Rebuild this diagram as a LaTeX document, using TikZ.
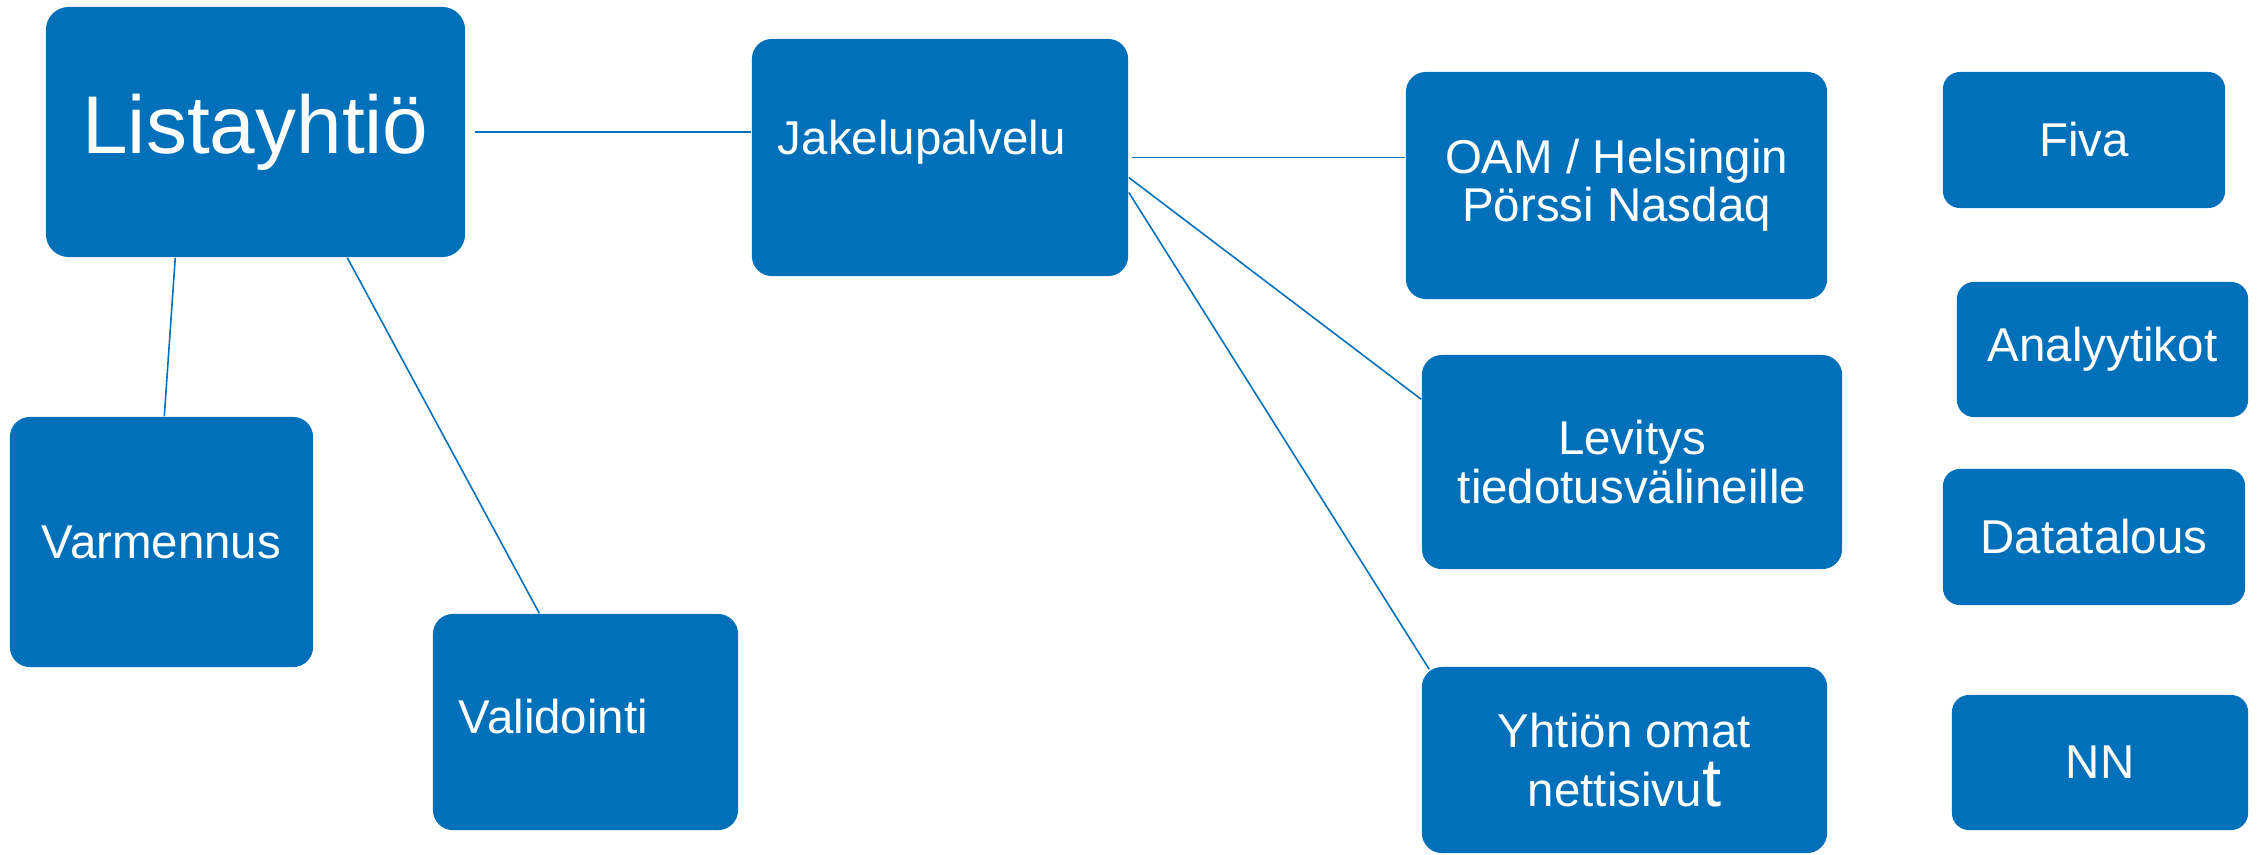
\documentclass[tikz,border=0pt]{standalone}
\usepackage{fontspec}
\setmainfont{Liberation Sans}
\definecolor{boxblue}{HTML}{0070BA}
\tikzstyle{box}=[fill=boxblue,rounded corners=.2cm,text=white,align=center,
  inner sep=0pt,font=\fontsize{13.5pt}{13.7pt}\selectfont]
\tikzstyle{leftbox}=[box,align=left,inner xsep=.26cm]
\tikzstyle{boxtext}=[text=white,inner sep=0pt,font=\fontsize{13.5pt}{13.7pt}\selectfont]
\tikzstyle{link}=[draw=boxblue,line width=.45pt]

\begin{document}
\begin{tikzpicture}[x=.01cm, y=-.01cm]
  \useasboundingbox (0,0) rectangle (2264,854);

  % left part
  \node[box, rounded corners=.23cm, minimum width=4.19cm, minimum height=2.5cm,
    font=\fontsize{23.3pt}{24pt}\selectfont] (list) at (255.5,132) {Listayhtiö};
  \node[box, minimum width=3.03cm, minimum height=2.5cm] (varm) at (161.5,542) {Varmennus};
  \node[leftbox, text width=2.53cm, text depth=.12cm, minimum height=2.16cm] (vali) at (585.5,722) {Validointi};
  \node[box, minimum width=3.76cm, minimum height=2.37cm] (jakelu) at (940,157.5) {};
  \node[boxtext, anchor=west] (jakelutext) at ([xshift=.26cm,yshift=.15cm]jakelu.west) {Jakelupalvelu};

  % channels
  \node[box, minimum width=4.21cm, minimum height=2.27cm] (oam) at (1616.5,185.5) {OAM / Helsingin\\Pörssi Nasdaq};
  \node[box, minimum width=4.2cm, minimum height=2.14cm] (lev) at (1632,462) {Levitys\\tiedotusvälineille};
  \node[box, minimum width=4.05cm, minimum height=1.86cm] (yht) at (1624.5,760) {Yhtiön omat\\[.1cm]nettisivu{\fontsize{19.5pt}{19.5pt}\selectfont t}};

  % receivers
  \node[box, rounded corners=.17cm, minimum width=2.82cm, minimum height=1.36cm] (fiva) at (2084,140) {Fiva};
  \node[box, rounded corners=.17cm, minimum width=2.91cm, minimum height=1.35cm] (analy) at (2102.5,349.5) {Analyytikot};
  \node[box, rounded corners=.17cm, minimum width=3.02cm, minimum height=1.36cm] (data) at (2094,537) {Datatalous};
  \node[box, rounded corners=.17cm, minimum width=2.96cm, minimum height=1.35cm] (nn) at (2100,762.5) {NN};

  \draw[link, line width=.6pt] ([xshift=.09cm]list.east) -- (list.east -| jakelu.west);
  \draw[link] ([xshift=1.3cm]list.south west) -- ([xshift=1.55cm]varm.north west);
  \draw[link] ([xshift=3.02cm]list.south west) -- ([xshift=1.07cm]vali.north west);
  \draw[link] ([xshift=.03cm]jakelu.east) -- (jakelu.east -| oam.west);
  \draw[link] ([yshift=-.2cm]jakelu.east) -- ([yshift=-.45cm]lev.north west);
  \draw[link] ([yshift=-.35cm]jakelu.east) -- ([xshift=.08cm,yshift=-.03cm]yht.north west);
\end{tikzpicture}
\end{document}
